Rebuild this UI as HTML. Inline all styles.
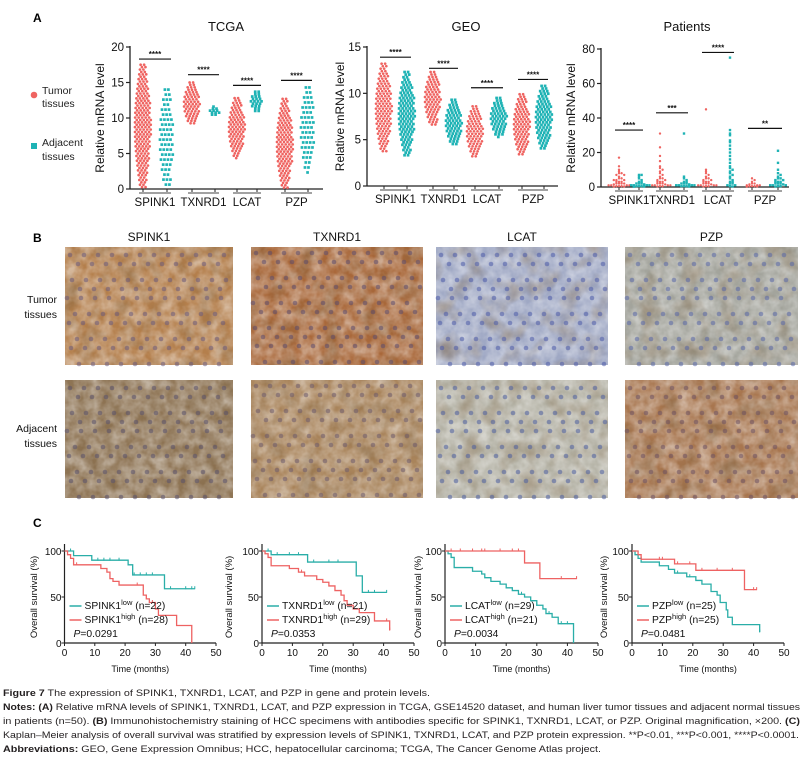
<!DOCTYPE html>
<html><head><meta charset="utf-8">
<style>
html,body{margin:0;padding:0;background:#fff;}
svg{display:block;font-family:"Liberation Sans",Arial,sans-serif;}
</style></head>
<body>
<svg id="fig" width="808" height="767" viewBox="0 0 808 767" xmlns="http://www.w3.org/2000/svg">
<defs>
<filter id="tex" x="0" y="0" width="100%" height="100%">
<feTurbulence type="fractalNoise" baseFrequency="0.09" numOctaves="3" seed="4"/>
<feColorMatrix type="matrix" values="0 0 0 0 1  0 0 0 0 1  0 0 0 0 1  0 0 0 -1.6 1.25"/>
</filter>
<filter id="tex2" x="0" y="0" width="100%" height="100%">
<feTurbulence type="fractalNoise" baseFrequency="0.05" numOctaves="2" seed="9"/>
<feColorMatrix type="matrix" values="0 0 0 0 0.2  0 0 0 0 0.12  0 0 0 0 0.05  0 0 0 -2 1.1"/>
</filter>
</defs>
<rect width="808" height="767" fill="#fff"/>
<g id="A"></g>
<g id="B"></g>
<g id="C"></g>
<g id="cap" font-size="9.6" fill="#231f20">
<text x="3" y="696" textLength="427" lengthAdjust="spacingAndGlyphs"><tspan font-weight="bold">Figure 7</tspan> The expression of SPINK1, TXNRD1, LCAT, and PZP in gene and protein levels.</text>
<text x="3" y="710" textLength="797" lengthAdjust="spacingAndGlyphs"><tspan font-weight="bold">Notes: (A)</tspan> Relative mRNA levels of SPINK1, TXNRD1, LCAT, and PZP expression in TCGA, GSE14520 dataset, and human liver tumor tissues and adjacent normal tissues</text>
<text x="3" y="724" textLength="797" lengthAdjust="spacingAndGlyphs">in patients (n=50). <tspan font-weight="bold">(B)</tspan> Immunohistochemistry staining of HCC specimens with antibodies specific for SPINK1, TXNRD1, LCAT, or PZP. Original magnification, ×200. <tspan font-weight="bold">(C)</tspan></text>
<text x="3" y="738" textLength="796" lengthAdjust="spacingAndGlyphs">Kaplan–Meier analysis of overall survival was stratified by expression levels of SPINK1, TXNRD1, LCAT, and PZP protein expression. **P&lt;0.01, ***P&lt;0.001, ****P&lt;0.0001.</text>
<text x="3" y="752" textLength="598" lengthAdjust="spacingAndGlyphs"><tspan font-weight="bold">Abbreviations:</tspan> GEO, Gene Expression Omnibus; HCC, hepatocellular carcinoma; TCGA, The Cancer Genome Atlas project.</text>
</g>
</svg>
<script>
const NS="http://www.w3.org/2000/svg";
const RED="#ef6461", TEAL="#1fb3b5";
// ---------- Panel A data ----------
const genes=["SPINK1","TXNRD1","LCAT","PZP"];
const tcgaTumorMin=[0,9,4.3,0], tcgaTumorMax=[17.5,15,12.8,12.7];
const tcgaAdjMin=[0,10.3,11,2.3], tcgaAdjMax=[14,11.6,13.7,14.3];
const tcgaTicks=[0,5,10,15,20];
const geoTumorMin=[3.5,6.5,3.1,3.2], geoTumorMax=[13.2,12.3,8.6,9.9];
const geoAdjMin=[3.3,4.4,5.3,3.8], geoAdjMax=[12.3,9.3,9.5,10.8];
const geoTicks=[0,5,10,15];
const patTumorSpink1=[17,12,10,9,8,8,7,7,6,5,5,4,4,4,3,3,3,2,2,2,2,1.5,1,1,1,1,0.5,0.5,0.5,0.3,0.2];
const patAdjSpink1=[7,7,6,5,4,3,3,2,2,2,1.5,1,1,1,1,0.5,0.5,0.5,0.3,0.2];
const patTumorTxnrd1=[31,23,18,15,12,11,10,9,8,7,6,5,5,4,4,3,3,3,2,2,2,1.5,1,1,1,1,0.5,0.5,0.3];
const patAdjTxnrd1=[31,6,5,4,3,3,2,2,2,1.5,1,1,1,1,0.5,0.5,0.5,0.3];
const patTumorLcat=[45,10,9,8,7,6,5,5,4,4,3,3,3,2,2,2,1.5,1,1,1,1,0.5,0.5,0.3];
const patAdjLcat=[75,33,31,30,27,26,24,22,20,18,16,14,12,11,10,9,8,7,6,5,4,3,3,2,2,1,1,0.5,0.3];
const patTumorPzp=[5,4,3,2,2,1.5,1,1,1,0.5,0.5,0.5,0.3,0.2];
const patAdjPzp=[21,14,10,8,7,6,5,5,4,4,3,3,3,2,2,2,1.5,1,1,1,0.5,0.5,0.3];
const patTicks=[0,20,40,60,80];
const tcgaSig=["****","****","****","****"], geoSig=["****","****","****","****"], patSig=["****","***","****","**"];
const tcgaSigLevel=[18.3,16.1,14.6,15.3], geoSigLevel=[13.9,12.7,10.6,11.5], patSigLevel=[33,43,78,34];

// ---------- Panel C data ----------
const kmLowT=[[0,3,9,21,22.5,33,43],[0,3,15,31,33,41],[0,1,2,3,9,12,13,15,18,20,22,24,26,28,30,32,33,35,37,42,42],[0,1,2,3,9,12,14,18,21,23,26,28,29,31,31.5,33,42,42]];
const kmLowS=[[100,95,90,85,74,59,59],[100,96,88,73,55,55],[100,97,93,82,78,75,71,67,64,60,57,53,50,46,41,37,32,28,21,21,0],[100,96,92,88,84,80,76,72,68,64,56,52,44,36,28,20,20,12]];
const kmHighT=[[0,1,2,3,12,14,15,16,18,26,27,28,30,31,37,42,42],[0,1,2,3,9,12,14,18,20,22,24,26,27,28,30,32,37,42,42],[0,26,31,43],[0,2,3,14,21,37,41]];
const kmHighS=[[100,96,92,85,81,77,70,67,63,52,48,44,37,30,19,19,0],[100,97,93,84,81,77,73,69,66,62,57,52,46,41,37,33,24,24,14],[100,87,70,70],[100,96,91,86,79,58,58]];
const kmCensorLow=[[2,11,13,15,18,23,25,27,29,35,40,42,43],[2,5,9,12,17,22,25,35,37,41],[25,30,34,38,40],[15,19,42]];
const kmCensorHigh=[[4,24,29],[13,41,42],[2,5,9,12,13,18,22,24,38,43],[3,9,10,15,19,23,28,33,40,41]];
const kmLabels=["SPINK1","TXNRD1","LCAT","PZP"];
const kmNLow=[22,21,29,25], kmNHigh=[28,29,21,25];
const kmP=["0.0291","0.0353","0.0034","0.0481"];
const kmXTicks=[0,10,20,30,40,50], kmYTicks=[0,50,100];

function mk(parent,tag,attrs,text){const e=document.createElementNS(NS,tag);for(const k in attrs)e.setAttribute(k,attrs[k]);if(text!==undefined)e.textContent=text;parent.appendChild(e);return e;}

const A=document.getElementById("A");
let t=mk(A,"text",{x:33,y:22,"font-size":12,"font-weight":"bold"},"A");


let g=mk(A,"g",{});


let e=mk(g,"circle",{cx:34,cy:95,r:3.3,fill:RED});


e=mk(g,"text",{x:42,y:94,"font-size":10.5,fill:"#222"},"Tumor");


e=mk(g,"text",{x:42,y:107,"font-size":10.5,fill:"#222"},"tissues");


e=mk(g,"rect",{x:31,y:143,width:6,height:6,fill:TEAL});


e=mk(g,"text",{x:42,y:146,"font-size":10.5,fill:"#222"},"Adjacent");


e=mk(g,"text",{x:42,y:160,"font-size":10.5,fill:"#222"},"tissues");



function axisA(cfg){
  const G=mk(A,"g",{});
  
  
  const ymax=cfg.ticks[cfg.ticks.length-1];
  const Y=v=>cfg.y0-(v/ymax)*(cfg.y0-cfg.y1);
  let e=mk(G,"text",{x:cfg.titleX,y:31,"font-size":13,"text-anchor":"middle",fill:"#111"},cfg.title);
  
  
  e=mk(G,"text",{x:0,y:0,"font-size":12,"text-anchor":"middle",fill:"#111",transform:`translate(${cfg.ytX},${(cfg.y0+cfg.y1)/2}) rotate(-90)`},"Relative mRNA level");
  
  
  e=mk(G,"line",{x1:cfg.ax,y1:cfg.y1-1,x2:cfg.ax,y2:cfg.y0,stroke:"#222","stroke-width":1.3});
  
  
  e=mk(G,"line",{x1:cfg.ax,y1:cfg.y0,x2:cfg.xEnd,y2:cfg.y0,stroke:"#222","stroke-width":1.3});
  
  
  cfg.ticks.forEach(v=>{
    let l=mk(G,"line",{x1:cfg.ax-4,y1:Y(v),x2:cfg.ax,y2:Y(v),stroke:"#222","stroke-width":1.2});
    
    
    let tx=mk(G,"text",{x:cfg.ax-6,y:Y(v)+4,"font-size":11.5,"text-anchor":"end",fill:"#111"},String(v));
    
    
  });
  genes.forEach((gname,i)=>{
    const xt=cfg.xT[i], xa=cfg.xA[i];
    let l=mk(G,"line",{x1:xt-4,y1:cfg.y0+4,x2:xa+4,y2:cfg.y0+4,stroke:"#444","stroke-width":1});
    
    
    [xt,xa].forEach(x=>{let tk=mk(G,"line",{x1:x,y1:cfg.y0,x2:x,y2:cfg.y0+3,stroke:"#222","stroke-width":1});
      
      });
    let tx=mk(G,"text",{x:(xt+xa)/2,y:cfg.y0+17,"font-size":11.5,"text-anchor":"middle",fill:"#111"},gname);
    
    
    const sy=Y(cfg.sigLevel[i]);
    let sl=mk(G,"line",{x1:xt-4,y1:sy,x2:xa+4,y2:sy,stroke:"#111","stroke-width":1.2});
    
    
    let st=mk(G,"text",{x:(xt+xa)/2,y:sy-2,"font-size":8,"font-weight":"bold","text-anchor":"middle",fill:"#111"},cfg.sig[i]);
    
    
  });
  return {G,Y};
}
function dot(G,x,y,color,sq,r){
  let d;
  if(sq){d=mk(G,"rect",{x:x-r,y:y-r,width:2*r,height:2*r,fill:color});}
  else{d=mk(G,"circle",{cx:x,cy:y,r:r,fill:color});}
  
  
}
function band(G,Y,cx,lo,hi,color,sq,halfW,rowGap){
  const ytop=Y(hi), ybot=Y(lo), H=ybot-ytop;
  let row=0;
  for(let y=ytop;y<=ybot+0.1;y+=rowGap,row++){
    const f=H>0?(y-ytop)/H:0.5;
    const w=halfW*(0.3+0.7*Math.sin(Math.PI*Math.min(1,Math.max(0,f))));
    const off=(row%2)*1.7;
    for(let x=-w+off;x<=w;x+=3.5){dot(G,cx+x,y,color,sq,1.35);}
  }
}
function swarm(G,Y,cx,vals,color,sq){
  const bins={};
  vals.forEach(v=>{const b=Math.round(Y(v)/2.6);(bins[b]=bins[b]||[]).push(v);});
  Object.keys(bins).forEach(b=>{
    const arr=bins[b];
    arr.forEach((v,k)=>{const s=(k%2?1:-1)*Math.ceil(k/2)*2.6;dot(G,cx+s,Y(v),color,sq,1.2);});
  });
}
const tcga={name:"tcga",title:"TCGA",titleX:226,ytX:104,ax:130,y0:189,y1:47,xEnd:323,ticks:tcgaTicks,xT:[143,192,237,285],xA:[167,215,257,308],sig:tcgaSig,sigLevel:tcgaSigLevel};
let r=axisA(tcga);
const tcgaHalf=[8,8,8,8], tcgaAdjHalf=[7,5,6,7], tcgaAdjGap=[5,2,2.4,5];
genes.forEach((_,i)=>{band(r.G,r.Y,tcga.xT[i],tcgaTumorMin[i],tcgaTumorMax[i],RED,false,tcgaHalf[i],2.4);
  band(r.G,r.Y,tcga.xA[i],tcgaAdjMin[i],tcgaAdjMax[i],TEAL,true,tcgaAdjHalf[i],tcgaAdjGap[i]);});
const geo={name:"geo",title:"GEO",titleX:466,ytX:344,ax:367,y0:186,y1:47,xEnd:558,ticks:geoTicks,xT:[384,433,475,522],xA:[407,454,499,544],sig:geoSig,sigLevel:geoSigLevel};
r=axisA(geo);
genes.forEach((_,i)=>{band(r.G,r.Y,geo.xT[i],geoTumorMin[i],geoTumorMax[i],RED,false,8,2.5);
  band(r.G,r.Y,geo.xA[i],geoAdjMin[i],geoAdjMax[i],TEAL,true,8,2.6);});
const pat={name:"patients",title:"Patients",titleX:687,ytX:575,ax:601,y0:187,y1:49,xEnd:789,ticks:patTicks,xT:[619,660,706,752],xA:[639,684,730,778],sig:patSig,sigLevel:patSigLevel};
r=axisA(pat);
const patT=[patTumorSpink1,patTumorTxnrd1,patTumorLcat,patTumorPzp], patA=[patAdjSpink1,patAdjTxnrd1,patAdjLcat,patAdjPzp];
genes.forEach((_,i)=>{swarm(r.G,r.Y,pat.xT[i],patT[i],RED,false);swarm(r.G,r.Y,pat.xA[i],patA[i],TEAL,true);});

// ---------- Panel B ----------
const B=document.getElementById("B");
t=mk(B,"text",{x:33,y:242,"font-size":12,"font-weight":"bold"},"B");


const bx=[65,251,436,625], bw=[168,172,172,173];
const rowY=[247,380], rowH=118;
const base=[["#b47f4c","#a9683a","#9fa8c4","#a3a49c"],["#8f7555","#a9845b","#b3b1a4","#a8764f"]];
const nuc=[["#6a5a7a","#5b4a6c","#4a5aa8","#5866a6"],["#57506a","#6b5a6a","#4b5c9e","#6c5060"]];
genes.forEach((gname,i)=>{
  let h=mk(B,"text",{x:bx[i]+bw[i]/2,y:241,"font-size":12,"text-anchor":"middle",fill:"#111"},gname);
  
  
  for(let rw=0;rw<2;rw++){
    const gg=mk(B,"g",{});
    
    
    const X=bx[i],Yy=rowY[rw];
    let rc=mk(gg,"rect",{x:X,y:Yy,width:bw[i],height:rowH,fill:base[rw][i]});
    
    
    rc=mk(gg,"rect",{x:X,y:Yy,width:bw[i],height:rowH,filter:"url(#tex)",opacity:0.45});
    
    
    rc=mk(gg,"rect",{x:X,y:Yy,width:bw[i],height:rowH,filter:"url(#tex2)",opacity:0.5});
    
    
    let k=0;
    for(let yy=Yy+6;yy<Yy+rowH-3;yy+=12){for(let xx=X+5+((k++)%2)*7;xx<X+bw[i]-3;xx+=14){
      const jx=((xx*7+yy*3)%7)-3, jy=((xx*3+yy*5)%7)-3;
      let c=mk(gg,"circle",{cx:xx+jx,cy:yy+jy,r:2.3,fill:nuc[rw][i],opacity:0.55});
      
      
    }}
  }
});
[["Tumor",303],["tissues",318],["Adjacent",432],["tissues",447]].forEach(([s,y])=>{
  let tt=mk(B,"text",{x:57,y:y,"font-size":10.5,"text-anchor":"end",fill:"#111"},s);
  
  
});

// ---------- Panel C ----------
const C=document.getElementById("C");
t=mk(C,"text",{x:33,y:527,"font-size":12,"font-weight":"bold"},"C");


const kmX0=[64.5,262,445,632], kmX50=[216,414,598,784], kmTitleX=[37,232,421,607];
const KT="#2aaea8", KR="#ee6262";
kmLabels.forEach((lab,i)=>{
  const G=mk(C,"g",{});
  
  
  const X=v=>kmX0[i]+v/50*(kmX50[i]-kmX0[i]);
  const Y=v=>643-v/100*92;
  let e=mk(G,"line",{x1:kmX0[i],y1:544,x2:kmX0[i],y2:643,stroke:"#222","stroke-width":1.2});
  
  
  e=mk(G,"line",{x1:kmX0[i],y1:643,x2:kmX50[i],y2:643,stroke:"#222","stroke-width":1.2});
  
  
  kmXTicks.forEach(v=>{
    let l=mk(G,"line",{x1:X(v),y1:643,x2:X(v),y2:646,stroke:"#222"});
    
    
    let tx=mk(G,"text",{x:X(v),y:656,"font-size":10,"text-anchor":"middle",fill:"#111"},String(v));
    
    
  });
  kmYTicks.forEach(v=>{
    let l=mk(G,"line",{x1:kmX0[i]-3,y1:Y(v),x2:kmX0[i],y2:Y(v),stroke:"#222"});
    
    
    let tx=mk(G,"text",{x:kmX0[i]-3,y:Y(v)+4,"font-size":10,"text-anchor":"end",fill:"#111"},String(v));
    
    
  });
  e=mk(G,"text",{x:(kmX0[i]+kmX50[i])/2,y:672,"font-size":9,"text-anchor":"middle",fill:"#111"},"Time (months)");
  
  
  e=mk(G,"text",{x:0,y:0,"font-size":9.5,"text-anchor":"middle",fill:"#111",transform:`translate(${kmTitleX[i]},597) rotate(-90)`},"Overall survival (%)");
  
  
  function step(T,S,col,name){
    let d=`M${X(T[0])},${Y(S[0])}`;
    for(let k=1;k<T.length;k++){d+=`H${X(T[k])}V${Y(S[k])}`;}
    let p=mk(G,"path",{d:d,fill:"none",stroke:col,"stroke-width":1.3});
    
    
  }
  function survAt(T,S,tt){let s=S[0];for(let k=0;k<T.length;k++){if(T[k]<=tt)s=S[k];}return s;}
  step(kmLowT[i],kmLowS[i],KT,'km-curve-low');
  step(kmHighT[i],kmHighS[i],KR,'km-curve-high');
  kmCensorLow[i].forEach(c=>{let l=mk(G,"line",{x1:X(c),y1:Y(survAt(kmLowT[i],kmLowS[i],c))-2.5,x2:X(c),y2:Y(survAt(kmLowT[i],kmLowS[i],c))+0.5,stroke:KT});
    
    });
  kmCensorHigh[i].forEach(c=>{let l=mk(G,"line",{x1:X(c),y1:Y(survAt(kmHighT[i],kmHighS[i],c))-2.5,x2:X(c),y2:Y(survAt(kmHighT[i],kmHighS[i],c))+0.5,stroke:KR});
    
    });
  const lx=kmX0[i]+5;
  [[KT,609,"low",kmNLow[i]],[KR,623,"high",kmNHigh[i]]].forEach(([col,y,sup,n])=>{
    let l=mk(G,"line",{x1:lx,y1:y-3,x2:lx+12,y2:y-3,stroke:col,"stroke-width":1.5});
    
    
    let tx=mk(G,"text",{x:lx+15,y:y,"font-size":10.3,fill:"#111"});
    
    
    mk(tx,"tspan",{},lab);
    mk(tx,"tspan",{dy:-4,"font-size":7.5},sup);
    mk(tx,"tspan",{dy:4},` (n=${n})`);
  });
  let pt=mk(G,"text",{x:lx+4,y:637,"font-size":10.3,fill:"#111"});
  
  
  mk(pt,"tspan",{"font-style":"italic"},"P");
  mk(pt,"tspan",{},"="+kmP[i]);
});
</script>
</body></html>
